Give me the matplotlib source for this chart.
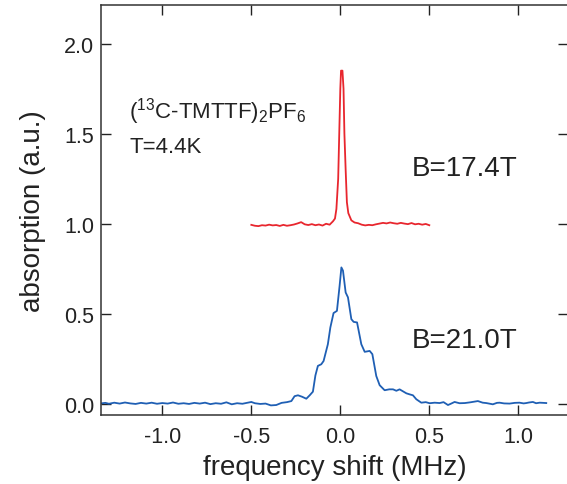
import matplotlib
matplotlib.use('Agg')
import matplotlib.pyplot as plt

plt.rcParams['font.family'] = ['Liberation Sans', 'DejaVu Sans']
plt.rcParams['mathtext.default'] = 'regular'

# B=21.0T spectrum (blue)
x_b21 = [-1.345, -1.32, -1.30, -1.27, -1.24, -1.21, -1.18, -1.15, -1.12, -1.09,
         -1.06, -1.03, -1.00, -0.97, -0.94, -0.91, -0.88, -0.85, -0.82, -0.79,
         -0.76, -0.73, -0.70, -0.67, -0.64, -0.61, -0.58, -0.55, -0.52, -0.50,
         -0.48, -0.45, -0.42, -0.39, -0.36, -0.33, -0.30, -0.275, -0.257, -0.238,
         -0.215, -0.191, -0.172, -0.154, -0.14, -0.126, -0.107, -0.094, -0.07, -0.056,
         -0.038, -0.019, -0.004, 0.006, 0.015, 0.03, 0.043, 0.062, 0.075, 0.094,
         0.118, 0.137, 0.165, 0.18, 0.202, 0.221, 0.249, 0.275, 0.296, 0.315,
         0.333, 0.352, 0.371, 0.39, 0.408, 0.427, 0.455, 0.48, 0.502, 0.53,
         0.558, 0.58, 0.605, 0.625, 0.642, 0.67, 0.70, 0.73, 0.773, 0.80,
         0.82, 0.857, 0.88, 0.895, 0.92, 0.951, 0.98, 1.007, 1.03, 1.045,
         1.06, 1.082, 1.10, 1.12, 1.14, 1.157]
y_b21 = [0.005, 0.008, 0.003, 0.009, 0.004, 0.010, 0.005, 0.002, 0.008, 0.004,
         0.009, 0.003, 0.007, 0.004, 0.010, 0.003, 0.006, 0.002, 0.008, 0.004,
         0.009, 0.001, 0.006, 0.003, 0.011, 0.000, 0.006, 0.003, 0.009, 0.013,
         0.006, 0.002, 0.004, -0.006, -0.004, 0.008, 0.012, 0.018, 0.045, 0.050,
         0.042, 0.031, 0.050, 0.070, 0.160, 0.213, 0.222, 0.240, 0.333, 0.426,
         0.506, 0.518, 0.657, 0.759, 0.741, 0.620, 0.593, 0.472, 0.457, 0.454,
         0.333, 0.291, 0.296, 0.278, 0.157, 0.106, 0.078, 0.083, 0.083, 0.075,
         0.083, 0.072, 0.061, 0.055, 0.050, 0.028, 0.009, 0.012, 0.006, 0.009,
         0.007, 0.012, -0.004, 0.005, 0.013, 0.006, 0.007, 0.011, 0.018, 0.009,
         0.007, 0.000, 0.008, 0.009, 0.005, 0.004, 0.008, 0.009, 0.005, 0.007,
         0.010, 0.013, 0.006, 0.009, 0.008, 0.007]

# B=17.4T spectrum (red)
x_b17 = [-0.50, -0.48, -0.46, -0.44, -0.42, -0.40, -0.38, -0.36, -0.34, -0.32,
         -0.30, -0.28, -0.26, -0.24, -0.22, -0.20, -0.18, -0.16, -0.14, -0.12,
         -0.10, -0.08, -0.06, -0.041, -0.03, -0.022, -0.012, -0.006, 0.0, 0.004,
         0.012, 0.018, 0.023, 0.03, 0.037, 0.045, 0.062, 0.08, 0.10, 0.12,
         0.14, 0.16, 0.18, 0.20, 0.22, 0.24, 0.26, 0.28, 0.30, 0.32,
         0.34, 0.36, 0.38, 0.40, 0.42, 0.44, 0.46, 0.48, 0.50]
y_b17 = [0.995, 0.990, 0.988, 0.993, 0.991, 0.996, 0.992, 0.994, 0.989, 0.995,
         0.990, 0.993, 0.997, 1.003, 1.010, 0.998, 0.994, 0.999, 0.993, 0.997,
         0.991, 1.001, 0.996, 1.015, 1.030, 1.083, 1.250, 1.500, 1.750, 1.850,
         1.850, 1.750, 1.500, 1.300, 1.120, 1.060, 1.020, 1.008, 1.004, 0.996,
         0.992, 0.995, 0.993, 0.998, 1.002, 1.006, 1.003, 1.008, 1.004, 1.001,
         1.006, 1.002, 0.999, 1.005, 0.998, 1.001, 0.996, 1.000, 0.993]

xticks = [-1.0, -0.5, 0.0, 0.5, 1.0]
yticks = [0.0, 0.5, 1.0, 1.5, 2.0]

fig = plt.figure(figsize=(5.67, 4.85), dpi=100)
ax = fig.add_axes([0.178, 0.142, 0.824, 0.846])

ax.plot(x_b21, y_b21, color='#1f5fb4', lw=1.3)
ax.plot(x_b17, y_b17, color='#e8262e', lw=1.3)

ax.set_xlim(-1.345, 1.28)
ax.set_ylim(-0.06, 2.215)
ax.set_xticks(xticks)
ax.set_yticks(yticks)
ax.set_xticklabels([f'{v:.1f}' for v in xticks])
ax.set_yticklabels([f'{v:.1f}' for v in yticks])
ax.tick_params(direction='in', length=7, width=1.0, top=True, right=True,
               labelsize=15.5, colors='#222222', pad=8)
ax.tick_params(axis='y', pad=5)
for s in ax.spines.values():
    s.set_linewidth(1.1)
    s.set_color('#333333')

ax.set_xlabel('frequency shift (MHz)', fontsize=20, color='#222222', labelpad=5)
ax.set_ylabel('absorption (a.u.)', fontsize=20, color='#222222', labelpad=13)

ax.text(-1.185, 1.59, r'($^{13}$C-TMTTF)$_2$PF$_6$', fontsize=16, color='#222222')
ax.text(-1.185, 1.40, 'T=4.4K', fontsize=16, color='#222222')
ax.text(0.40, 1.27, 'B=17.4T', fontsize=20, color='#222222')
ax.text(0.40, 0.32, 'B=21.0T', fontsize=20, color='#222222')

fig.savefig('out.png', dpi=100)
